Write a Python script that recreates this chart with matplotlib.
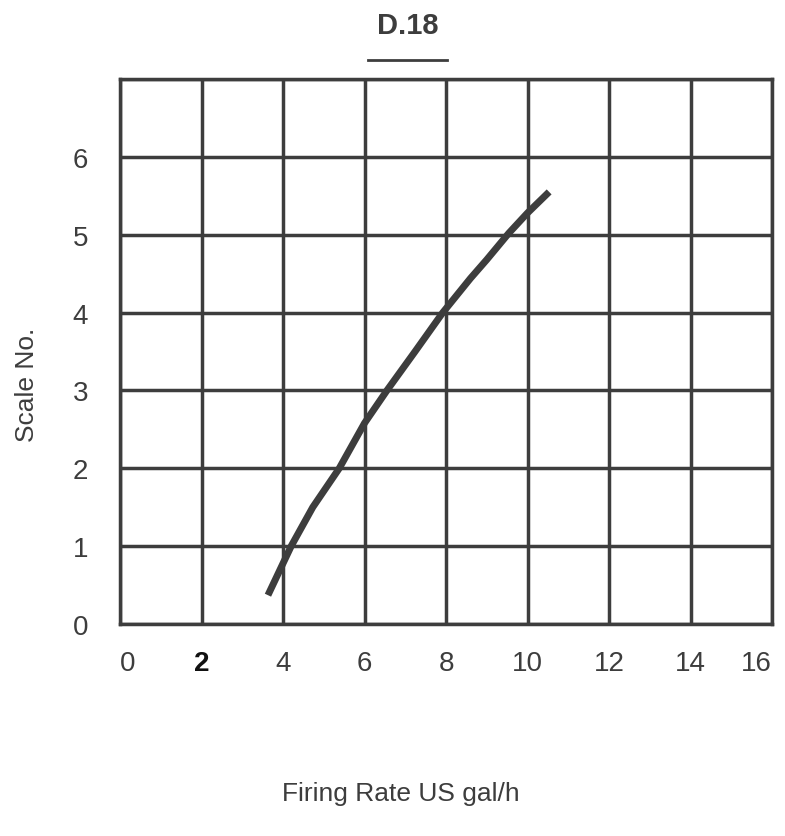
import matplotlib.pyplot as plt

# values
rate = [3.63, 4.2, 4.73, 5.38, 6.0, 6.55, 7.24, 7.92, 8.6, 9.0, 9.54, 10.0, 10.53]
scale = [0.37, 1.0, 1.5, 2.0, 2.58, 3.0, 3.5, 4.0, 4.44, 4.68, 5.02, 5.28, 5.55]
xticks = [0, 2, 4, 6, 8, 10, 12, 14, 16]
yticks = [0, 1, 2, 3, 4, 5, 6]
ygrid = [0, 1, 2, 3, 4, 5, 6, 7]

ink = '#3d3d3d'
plt.rcParams['font.family'] = ['Liberation Sans', 'DejaVu Sans']

fig = plt.figure(figsize=(7.85, 8.37), dpi=100)
ax = fig.add_axes([0.1529, 0.2533, 0.8306, 0.6511])

ax.plot(rate, scale, color=ink, lw=5, solid_capstyle='butt',
        solid_joinstyle='round', zorder=3)

ax.set_xlim(0, 16)
ax.set_ylim(0, 7)
ax.set_xticks(xticks)
ax.set_yticks(yticks)
ax.set_yticks(ygrid, minor=True)
ax.grid(True, which='both', color=ink, lw=2.5)
ax.tick_params(which='both', length=0)
ax.tick_params(labelsize=20, labelcolor=ink)
ax.tick_params(axis='x', pad=19)
ax.tick_params(axis='y', pad=23)
xlabs = ax.get_xticklabels()
# the "2" is printed darker in the original
xlabs[1].set_color('#111111')
xlabs[1].set_fontweight('bold')
# end labels sit inside the frame edges
xlabs[0].set_horizontalalignment('left')
xlabs[-1].set_horizontalalignment('right')
for s in ax.spines.values():
    s.set_color(ink)
    s.set_linewidth(2.5)

fig.text(0.519, 0.969, 'D.18', ha='center', va='center', fontsize=21,
         fontweight='bold', color=ink)
fig.add_artist(plt.Line2D([368 / 785, 447 / 785], [1 - 61 / 837, 1 - 61 / 837],
                          color=ink, lw=2))
fig.text(0.034, 0.54, 'Scale No.', rotation=90, ha='center', va='center',
         fontsize=19, color=ink)
fig.text(0.511, 0.051, 'Firing Rate US gal/h', ha='center', va='center',
         fontsize=19, color=ink)

fig.savefig('out.png', dpi=100, facecolor='white')
